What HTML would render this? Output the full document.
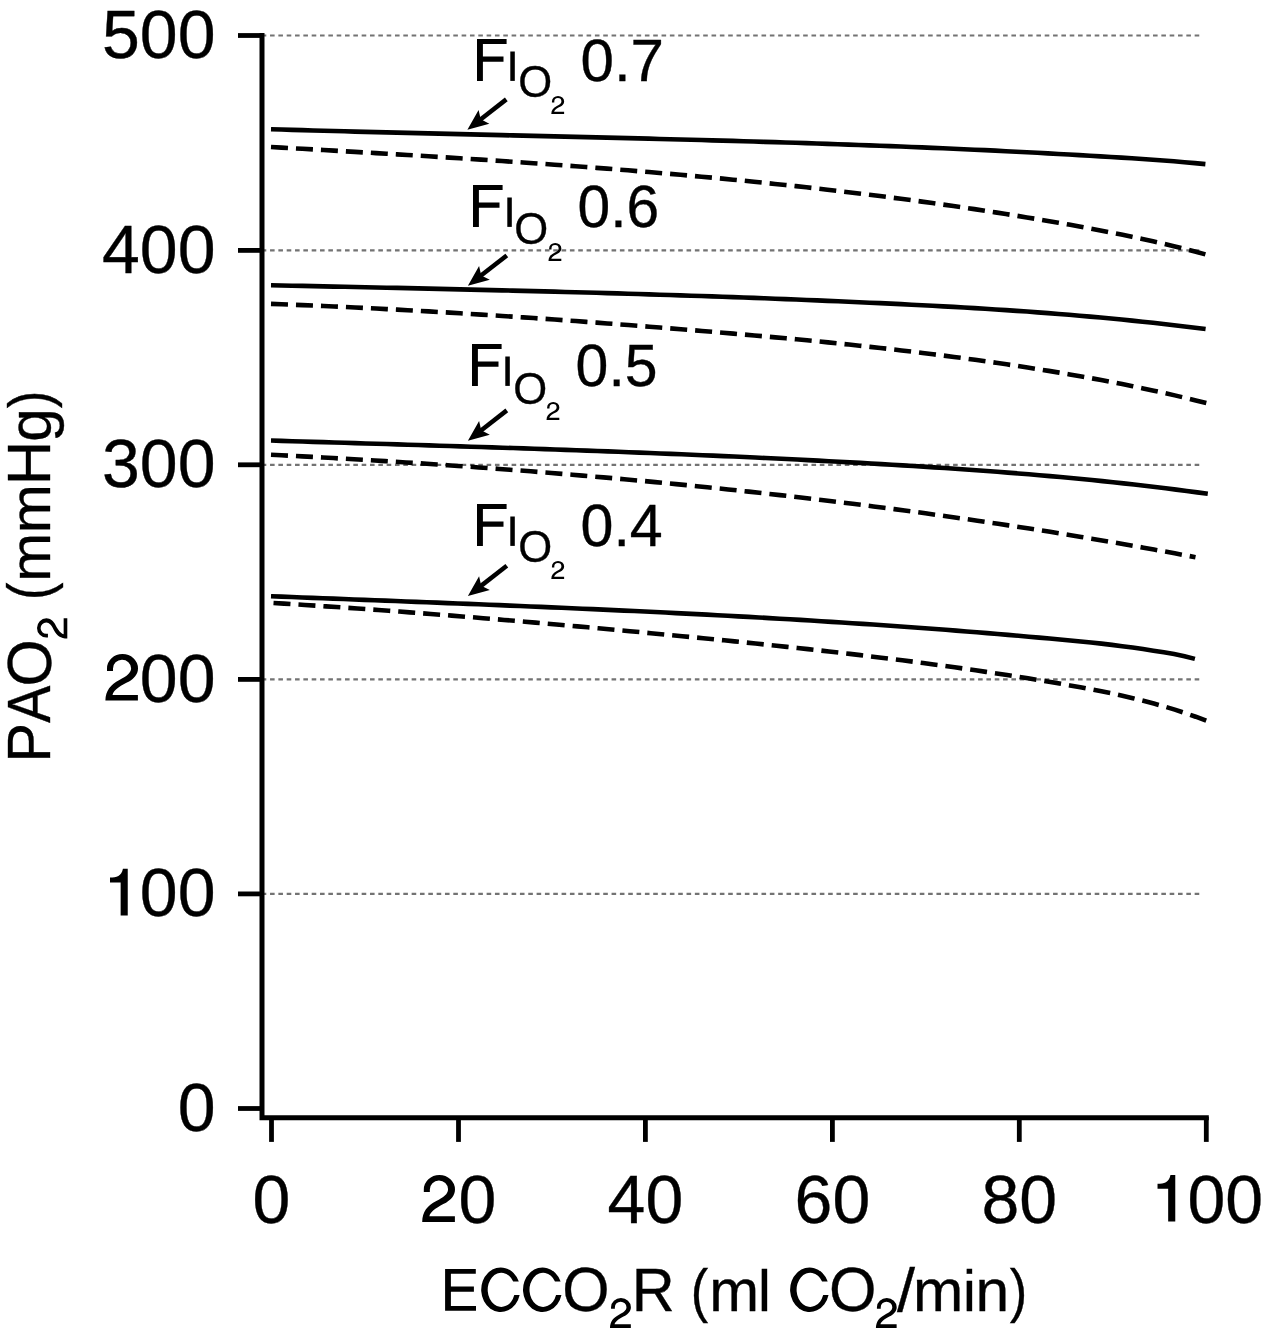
<!DOCTYPE html>
<html><head><meta charset="utf-8"><style>
html,body{margin:0;padding:0;background:#fff;width:1262px;height:1341px;overflow:hidden}
svg{display:block;will-change:transform}
text{font-family:"Liberation Sans",sans-serif;fill:#000;stroke:#000;stroke-width:0.35px;vector-effect:non-scaling-stroke;font-kerning:none;white-space:pre}
</style></head><body>
<svg width="1262" height="1341" viewBox="0 0 1262 1341">
<line x1="261.7" y1="35.5" x2="1200" y2="35.5" stroke="#737373" stroke-width="2.2" stroke-dasharray="4.6 3.73"/>
<line x1="261.7" y1="250.4" x2="1200" y2="250.4" stroke="#737373" stroke-width="2.2" stroke-dasharray="4.6 3.73"/>
<line x1="261.7" y1="464.8" x2="1200" y2="464.8" stroke="#737373" stroke-width="2.2" stroke-dasharray="4.6 3.73"/>
<line x1="261.7" y1="679.4" x2="1200" y2="679.4" stroke="#737373" stroke-width="2.2" stroke-dasharray="4.6 3.73"/>
<line x1="261.7" y1="893.9" x2="1200" y2="893.9" stroke="#737373" stroke-width="2.2" stroke-dasharray="4.6 3.73"/>
<path d="M271.0,129.26 L281.5,129.57 L292.0,129.87 L302.5,130.17 L313.0,130.46 L323.5,130.75 L334.0,131.03 L344.5,131.31 L355.0,131.58 L365.5,131.85 L376.0,132.12 L386.5,132.38 L397.0,132.64 L407.5,132.90 L418.0,133.16 L428.5,133.41 L439.0,133.66 L449.5,133.91 L460.0,134.16 L470.5,134.41 L481.0,134.66 L491.5,134.90 L502.0,135.15 L512.5,135.39 L523.0,135.64 L533.5,135.88 L544.0,136.13 L554.5,136.37 L565.0,136.62 L575.5,136.87 L586.0,137.12 L596.5,137.37 L607.0,137.63 L617.5,137.88 L628.0,138.14 L638.5,138.40 L649.0,138.67 L659.5,138.93 L670.0,139.20 L680.5,139.48 L691.0,139.76 L701.5,140.04 L712.0,140.33 L722.5,140.62 L733.0,140.92 L743.4,141.22 L753.9,141.53 L764.4,141.84 L774.9,142.16 L785.4,142.48 L795.9,142.82 L806.4,143.15 L816.9,143.50 L827.4,143.85 L837.9,144.21 L848.4,144.58 L858.9,144.96 L869.4,145.34 L879.9,145.73 L890.4,146.13 L900.9,146.54 L911.4,146.96 L921.9,147.39 L932.4,147.83 L942.9,148.28 L953.4,148.73 L963.9,149.20 L974.4,149.68 L984.9,150.17 L995.4,150.67 L1005.9,151.19 L1016.4,151.71 L1026.9,152.25 L1037.4,152.79 L1047.9,153.35 L1058.4,153.93 L1068.9,154.51 L1079.4,155.11 L1089.9,155.73 L1100.4,156.35 L1110.9,156.99 L1121.4,157.65 L1131.9,158.32 L1142.4,159.01 L1152.9,159.74 L1163.4,160.50 L1173.9,161.32 L1184.4,162.19 L1194.9,163.12 L1205.4,164.13" fill="none" stroke="#000" stroke-width="4.6"/>
<path d="M271.0,147.00 L281.5,147.61 L292.0,148.21 L302.5,148.82 L313.0,149.42 L323.5,150.03 L334.0,150.64 L344.5,151.25 L355.0,151.87 L365.5,152.49 L376.0,153.11 L386.5,153.74 L397.0,154.37 L407.5,155.00 L418.0,155.65 L428.5,156.29 L439.0,156.95 L449.5,157.61 L460.0,158.28 L470.5,158.95 L481.0,159.64 L491.5,160.33 L502.0,161.03 L512.5,161.75 L523.0,162.47 L533.5,163.20 L544.0,163.94 L554.5,164.70 L565.0,165.46 L575.5,166.24 L586.0,167.03 L596.5,167.84 L607.0,168.65 L617.5,169.48 L628.0,170.33 L638.5,171.19 L649.0,172.06 L659.5,172.96 L670.0,173.86 L680.5,174.79 L691.0,175.73 L701.5,176.69 L712.0,177.66 L722.5,178.66 L733.0,179.67 L743.4,180.70 L753.9,181.75 L764.4,182.82 L774.9,183.92 L785.4,185.03 L795.9,186.16 L806.4,187.32 L816.9,188.50 L827.4,189.70 L837.9,190.92 L848.4,192.17 L858.9,193.44 L869.4,194.74 L879.9,196.06 L890.4,197.41 L900.9,198.78 L911.4,200.18 L921.9,201.60 L932.4,203.06 L942.9,204.54 L953.4,206.04 L963.9,207.58 L974.4,209.14 L984.9,210.74 L995.4,212.36 L1005.9,214.02 L1016.4,215.70 L1026.9,217.42 L1037.4,219.16 L1047.9,220.94 L1058.4,222.75 L1068.9,224.60 L1079.4,226.49 L1089.9,228.43 L1100.4,230.42 L1110.9,232.46 L1121.4,234.57 L1131.9,236.75 L1142.4,239.00 L1152.9,241.33 L1163.4,243.74 L1173.9,246.25 L1184.4,248.84 L1194.9,251.54 L1205.4,254.35" fill="none" stroke="#000" stroke-width="4.6" stroke-dasharray="17 8"/>
<path d="M271.0,285.27 L281.5,285.49 L292.0,285.70 L302.5,285.92 L313.0,286.14 L323.5,286.36 L334.0,286.58 L344.5,286.80 L355.0,287.02 L365.5,287.24 L376.0,287.47 L386.5,287.70 L397.0,287.92 L407.5,288.15 L418.0,288.39 L428.5,288.62 L439.0,288.86 L449.5,289.10 L460.0,289.34 L470.5,289.59 L481.0,289.83 L491.5,290.09 L502.0,290.34 L512.5,290.60 L523.0,290.86 L533.5,291.13 L544.0,291.40 L554.5,291.67 L565.0,291.95 L575.5,292.24 L586.0,292.52 L596.5,292.82 L607.0,293.12 L617.5,293.42 L628.0,293.73 L638.5,294.04 L649.0,294.36 L659.5,294.69 L670.0,295.02 L680.5,295.36 L691.0,295.70 L701.5,296.05 L712.0,296.41 L722.5,296.77 L733.0,297.15 L743.6,297.52 L754.1,297.91 L764.6,298.30 L775.1,298.70 L785.6,299.11 L796.1,299.53 L806.6,299.95 L817.1,300.39 L827.6,300.83 L838.1,301.28 L848.6,301.74 L859.1,302.20 L869.6,302.68 L880.1,303.17 L890.6,303.66 L901.1,304.17 L911.6,304.69 L922.1,305.22 L932.6,305.77 L943.1,306.34 L953.6,306.92 L964.1,307.52 L974.6,308.14 L985.1,308.79 L995.6,309.45 L1006.1,310.13 L1016.6,310.85 L1027.1,311.58 L1037.6,312.34 L1048.1,313.13 L1058.6,313.95 L1069.1,314.80 L1079.6,315.68 L1090.1,316.59 L1100.6,317.54 L1111.1,318.52 L1121.6,319.53 L1132.1,320.59 L1142.6,321.68 L1153.1,322.81 L1163.6,323.98 L1174.1,325.19 L1184.6,326.45 L1195.1,327.74 L1205.6,329.09" fill="none" stroke="#000" stroke-width="4.6"/>
<path d="M271.0,303.90 L281.5,304.29 L292.0,304.70 L302.5,305.12 L313.0,305.57 L323.5,306.02 L334.1,306.49 L344.6,306.98 L355.1,307.48 L365.6,308.00 L376.1,308.53 L386.6,309.08 L397.1,309.64 L407.6,310.21 L418.1,310.80 L428.6,311.40 L439.1,312.01 L449.7,312.63 L460.2,313.27 L470.7,313.92 L481.2,314.59 L491.7,315.26 L502.2,315.95 L512.7,316.65 L523.2,317.36 L533.7,318.08 L544.2,318.81 L554.7,319.55 L565.3,320.31 L575.8,321.07 L586.3,321.84 L596.8,322.62 L607.3,323.42 L617.8,324.22 L628.3,325.03 L638.8,325.85 L649.3,326.68 L659.8,327.51 L670.3,328.36 L680.9,329.21 L691.4,330.07 L701.9,330.94 L712.4,331.82 L722.9,332.71 L733.4,333.61 L743.9,334.52 L754.4,335.45 L764.9,336.39 L775.4,337.35 L785.9,338.33 L796.4,339.32 L807.0,340.33 L817.5,341.36 L828.0,342.41 L838.5,343.48 L849.0,344.58 L859.5,345.69 L870.0,346.84 L880.5,348.00 L891.0,349.20 L901.5,350.42 L912.0,351.66 L922.6,352.94 L933.1,354.25 L943.6,355.59 L954.1,356.96 L964.6,358.36 L975.1,359.80 L985.6,361.27 L996.1,362.77 L1006.6,364.32 L1017.1,365.90 L1027.6,367.52 L1038.2,369.18 L1048.7,370.88 L1059.2,372.62 L1069.7,374.40 L1080.2,376.24 L1090.7,378.12 L1101.2,380.06 L1111.7,382.05 L1122.2,384.10 L1132.7,386.22 L1143.2,388.40 L1153.8,390.65 L1164.3,392.98 L1174.8,395.38 L1185.3,397.86 L1195.8,400.42 L1206.3,403.06" fill="none" stroke="#000" stroke-width="4.6" stroke-dasharray="17 8"/>
<path d="M271.0,440.57 L281.5,440.89 L292.1,441.21 L302.6,441.53 L313.1,441.85 L323.6,442.16 L334.2,442.48 L344.7,442.80 L355.2,443.12 L365.7,443.43 L376.3,443.75 L386.8,444.07 L397.3,444.39 L407.8,444.72 L418.4,445.04 L428.9,445.37 L439.4,445.69 L449.9,446.02 L460.5,446.36 L471.0,446.69 L481.5,447.03 L492.0,447.37 L502.6,447.72 L513.1,448.06 L523.6,448.42 L534.1,448.77 L544.7,449.13 L555.2,449.50 L565.7,449.87 L576.2,450.24 L586.8,450.62 L597.3,451.00 L607.8,451.39 L618.4,451.79 L628.9,452.19 L639.4,452.59 L649.9,453.01 L660.5,453.43 L671.0,453.85 L681.5,454.29 L692.0,454.73 L702.6,455.18 L713.1,455.63 L723.6,456.09 L734.1,456.56 L744.7,457.04 L755.2,457.53 L765.7,458.03 L776.2,458.53 L786.8,459.05 L797.3,459.57 L807.8,460.10 L818.3,460.65 L828.9,461.20 L839.4,461.76 L849.9,462.33 L860.4,462.92 L871.0,463.51 L881.5,464.12 L892.0,464.73 L902.6,465.37 L913.1,466.01 L923.6,466.67 L934.1,467.34 L944.7,468.04 L955.2,468.75 L965.7,469.48 L976.2,470.23 L986.8,471.00 L997.3,471.79 L1007.8,472.61 L1018.3,473.45 L1028.9,474.31 L1039.4,475.20 L1049.9,476.12 L1060.4,477.07 L1071.0,478.04 L1081.5,479.05 L1092.0,480.08 L1102.5,481.15 L1113.1,482.25 L1123.6,483.39 L1134.1,484.56 L1144.6,485.77 L1155.2,487.01 L1165.7,488.30 L1176.2,489.62 L1186.7,490.98 L1197.3,492.38 L1207.8,493.83" fill="none" stroke="#000" stroke-width="4.6"/>
<path d="M271.0,454.73 L281.4,455.26 L291.8,455.80 L302.2,456.35 L312.6,456.91 L322.9,457.49 L333.3,458.07 L343.7,458.66 L354.1,459.27 L364.5,459.88 L374.9,460.51 L385.3,461.15 L395.7,461.80 L406.0,462.46 L416.4,463.13 L426.8,463.81 L437.2,464.51 L447.6,465.22 L458.0,465.94 L468.4,466.67 L478.8,467.42 L489.1,468.17 L499.5,468.94 L509.9,469.73 L520.3,470.52 L530.7,471.33 L541.1,472.16 L551.5,472.99 L561.9,473.84 L572.2,474.71 L582.6,475.59 L593.0,476.48 L603.4,477.38 L613.8,478.30 L624.2,479.24 L634.6,480.19 L645.0,481.15 L655.3,482.13 L665.7,483.13 L676.1,484.14 L686.5,485.16 L696.9,486.20 L707.3,487.26 L717.7,488.33 L728.1,489.42 L738.4,490.53 L748.8,491.65 L759.2,492.78 L769.6,493.94 L780.0,495.11 L790.4,496.29 L800.8,497.50 L811.2,498.72 L821.5,499.96 L831.9,501.21 L842.3,502.49 L852.7,503.78 L863.1,505.08 L873.5,506.41 L883.9,507.76 L894.3,509.12 L904.6,510.50 L915.0,511.90 L925.4,513.32 L935.8,514.76 L946.2,516.21 L956.6,517.69 L967.0,519.18 L977.4,520.70 L987.7,522.23 L998.1,523.78 L1008.5,525.36 L1018.9,526.95 L1029.3,528.56 L1039.7,530.19 L1050.1,531.85 L1060.5,533.52 L1070.8,535.22 L1081.2,536.93 L1091.6,538.67 L1102.0,540.43 L1112.4,542.21 L1122.8,544.01 L1133.2,545.83 L1143.6,547.67 L1153.9,549.54 L1164.3,551.43 L1174.7,553.34 L1185.1,555.27 L1195.5,557.22" fill="none" stroke="#000" stroke-width="4.6" stroke-dasharray="17 8"/>
<path d="M271.0,596.25 L281.4,596.65 L291.8,597.06 L302.1,597.46 L312.5,597.86 L322.9,598.26 L333.3,598.66 L343.7,599.06 L354.0,599.45 L364.4,599.85 L374.8,600.25 L385.2,600.65 L395.6,601.05 L406.0,601.46 L416.3,601.86 L426.7,602.26 L437.1,602.67 L447.5,603.08 L457.9,603.49 L468.2,603.90 L478.6,604.32 L489.0,604.74 L499.4,605.16 L509.8,605.59 L520.1,606.02 L530.5,606.45 L540.9,606.89 L551.3,607.33 L561.7,607.78 L572.0,608.23 L582.4,608.69 L592.8,609.15 L603.2,609.62 L613.6,610.10 L624.0,610.58 L634.3,611.06 L644.7,611.56 L655.1,612.06 L665.5,612.57 L675.9,613.08 L686.2,613.60 L696.6,614.13 L707.0,614.67 L717.4,615.22 L727.8,615.77 L738.1,616.34 L748.5,616.91 L758.9,617.49 L769.3,618.08 L779.7,618.69 L790.0,619.30 L800.4,619.92 L810.8,620.55 L821.2,621.19 L831.6,621.85 L841.9,622.51 L852.3,623.19 L862.7,623.88 L873.1,624.58 L883.5,625.29 L893.9,626.01 L904.2,626.75 L914.6,627.50 L925.0,628.26 L935.4,629.04 L945.8,629.83 L956.1,630.63 L966.5,631.45 L976.9,632.28 L987.3,633.13 L997.7,633.99 L1008.0,634.87 L1018.4,635.76 L1028.8,636.67 L1039.2,637.59 L1049.6,638.53 L1059.9,639.48 L1070.3,640.46 L1080.7,641.47 L1091.1,642.53 L1101.5,643.65 L1111.9,644.87 L1122.2,646.18 L1132.6,647.59 L1143.0,649.09 L1153.4,650.65 L1163.8,652.27 L1174.1,654.03 L1184.5,656.16 L1194.9,658.88" fill="none" stroke="#000" stroke-width="4.6"/>
<path d="M273.5,603.00 L284.0,603.64 L294.5,604.30 L304.9,604.97 L315.4,605.65 L325.9,606.34 L336.4,607.05 L346.9,607.77 L357.3,608.50 L367.8,609.25 L378.3,610.00 L388.8,610.77 L399.3,611.55 L409.7,612.34 L420.2,613.14 L430.7,613.95 L441.2,614.78 L451.7,615.61 L462.1,616.45 L472.6,617.30 L483.1,618.17 L493.6,619.04 L504.1,619.92 L514.5,620.81 L525.0,621.71 L535.5,622.62 L546.0,623.54 L556.5,624.47 L566.9,625.41 L577.4,626.35 L587.9,627.30 L598.4,628.26 L608.9,629.23 L619.3,630.20 L629.8,631.18 L640.3,632.17 L650.8,633.17 L661.3,634.17 L671.7,635.18 L682.2,636.19 L692.7,637.22 L703.2,638.25 L713.7,639.28 L724.1,640.33 L734.6,641.38 L745.1,642.45 L755.6,643.53 L766.0,644.62 L776.5,645.72 L787.0,646.84 L797.5,647.97 L808.0,649.12 L818.4,650.28 L828.9,651.46 L839.4,652.66 L849.9,653.88 L860.4,655.12 L870.8,656.38 L881.3,657.66 L891.8,658.96 L902.3,660.29 L912.8,661.64 L923.2,663.02 L933.7,664.42 L944.2,665.85 L954.7,667.31 L965.2,668.79 L975.6,670.30 L986.1,671.85 L996.6,673.42 L1007.1,675.03 L1017.6,676.67 L1028.0,678.34 L1038.5,680.05 L1049.0,681.79 L1059.5,683.57 L1070.0,685.40 L1080.4,687.28 L1090.9,689.25 L1101.4,691.31 L1111.9,693.47 L1122.4,695.77 L1132.8,698.20 L1143.3,700.79 L1153.8,703.55 L1164.3,706.51 L1174.8,709.67 L1185.2,713.06 L1195.7,716.71 L1206.2,720.63" fill="none" stroke="#000" stroke-width="4.6" stroke-dasharray="17 8"/>
<path d="M262,33.1 V1117.7 H1208.8" fill="none" stroke="#000" stroke-width="5"/>
<line x1="238" y1="35.5" x2="262" y2="35.5" stroke="#000" stroke-width="4.8"/>
<line x1="238" y1="250.4" x2="262" y2="250.4" stroke="#000" stroke-width="4.8"/>
<line x1="238" y1="464.8" x2="262" y2="464.8" stroke="#000" stroke-width="4.8"/>
<line x1="238" y1="679.4" x2="262" y2="679.4" stroke="#000" stroke-width="4.8"/>
<line x1="238" y1="893.9" x2="262" y2="893.9" stroke="#000" stroke-width="4.8"/>
<line x1="238" y1="1108.5" x2="262" y2="1108.5" stroke="#000" stroke-width="4.8"/>
<line x1="271.5" y1="1117" x2="271.5" y2="1141.9" stroke="#000" stroke-width="4.8"/>
<line x1="458.5" y1="1117" x2="458.5" y2="1141.9" stroke="#000" stroke-width="4.8"/>
<line x1="645.4" y1="1117" x2="645.4" y2="1141.9" stroke="#000" stroke-width="4.8"/>
<line x1="832.4" y1="1117" x2="832.4" y2="1141.9" stroke="#000" stroke-width="4.8"/>
<line x1="1019.3" y1="1117" x2="1019.3" y2="1141.9" stroke="#000" stroke-width="4.8"/>
<line x1="1206.3" y1="1117" x2="1206.3" y2="1141.9" stroke="#000" stroke-width="4.8"/>
<text x="215.5" y="57.9" text-anchor="end" font-size="68">500</text>
<text x="215.5" y="272.8" text-anchor="end" font-size="68">400</text>
<text x="215.5" y="487.2" text-anchor="end" font-size="68">300</text>
<text x="215.5" y="701.8" text-anchor="end" font-size="68">00</text>
<path transform="translate(105.40,654.10) scale(1.0000,1.0000) translate(-105.4,-654.1)" d="M107.0,670.9 L107.0,668.5 A15.5,14.4 0 0 1 138.0,668.5 C138.0,674.5 133.5,679.0 129.1,681.5 C122.0,685.0 113.5,689.5 112.5,695.0 L137.9,695.0 L137.9,700.6 L105.4,700.6 C105.6,690.5 110.5,684.5 119.4,679.9 C126.5,676.5 131.1,673.0 131.1,668.3 A9.0,8.7 0 0 0 113.0,668.5 L113.0,670.9 Z" fill="#000"/>
<text x="215.5" y="916.3" text-anchor="end" font-size="68">00</text>
<path d="M127.74,868.70 L127.74,915.40 L120.64,915.40 L120.64,882.50 L110.00,882.50 L110.00,877.50 C116.54,877.50 121.54,876.10 122.94,868.70 Z" fill="#000"/>
<text x="215.5" y="1130.9" text-anchor="end" font-size="68">0</text>
<text x="271.5" y="1222.5" text-anchor="middle" font-size="68">0</text>
<text x="458.46" y="1222.5" font-size="68">0</text>
<path transform="translate(422.20,1175.00) scale(1.0061,1.0086) translate(-105.4,-654.1)" d="M107.0,670.9 L107.0,668.5 A15.5,14.4 0 0 1 138.0,668.5 C138.0,674.5 133.5,679.0 129.1,681.5 C122.0,685.0 113.5,689.5 112.5,695.0 L137.9,695.0 L137.9,700.6 L105.4,700.6 C105.6,690.5 110.5,684.5 119.4,679.9 C126.5,676.5 131.1,673.0 131.1,668.3 A9.0,8.7 0 0 0 113.0,668.5 L113.0,670.9 Z" fill="#000"/>
<text x="645.4" y="1222.5" text-anchor="middle" font-size="68">40</text>
<text x="832.4" y="1222.5" text-anchor="middle" font-size="68">60</text>
<text x="1019.3" y="1222.5" text-anchor="middle" font-size="68">80</text>
<text x="1187.39" y="1222.5" font-size="68">00</text>
<path d="M1175.27,1174.90 L1175.27,1221.60 L1168.17,1221.60 L1168.17,1188.70 L1157.53,1188.70 L1157.53,1183.70 C1164.07,1183.70 1169.07,1182.30 1170.47,1174.90 Z" fill="#000"/>
<path d="M467.40,129.70 L478.59,109.88 L480.73,119.31 L489.35,123.69 Z" fill="#000"/><line x1="479.23" y1="120.47" x2="506.30" y2="99.38" stroke="#000" stroke-width="4.5"/>
<path d="M467.90,285.80 L479.09,265.98 L481.23,275.41 L489.85,279.79 Z" fill="#000"/><line x1="479.73" y1="276.57" x2="506.80" y2="255.48" stroke="#000" stroke-width="4.5"/>
<path d="M467.90,440.70 L479.09,420.88 L481.23,430.31 L489.85,434.69 Z" fill="#000"/><line x1="479.73" y1="431.47" x2="506.80" y2="410.38" stroke="#000" stroke-width="4.5"/>
<path d="M467.90,596.10 L479.09,576.28 L481.23,585.71 L489.85,590.09 Z" fill="#000"/><line x1="479.73" y1="586.88" x2="506.80" y2="565.78" stroke="#000" stroke-width="4.5"/>
<path d="M477.00,39.00h29.6v5.0h-23.7v12.5h20.6v5.3h-20.6v19.1h-5.9z" fill="#000"/><rect x="510.30" y="51.50" width="4.5" height="29.4" fill="#000"/><text transform="translate(518.23,97.36) scale(0.9701,1)" font-size="45" >O</text><path transform="translate(551.30,95.90) scale(0.3942,0.3871) translate(-105.4,-654.1)" d="M107.0,670.9 L107.0,668.5 A15.5,14.4 0 0 1 138.0,668.5 C138.0,674.5 133.5,679.0 129.1,681.5 C122.0,685.0 113.5,689.5 112.5,695.0 L137.9,695.0 L137.9,700.6 L105.4,700.6 C105.6,690.5 110.5,684.5 119.4,679.9 C126.5,676.5 131.1,673.0 131.1,668.3 A9.0,8.7 0 0 0 113.0,668.5 L113.0,670.9 Z" fill="#000"/><text transform="translate(580.45,81.30) scale(1.0020,1)" font-size="60.0" >0.7</text>
<path d="M473.00,185.00h29.6v5.0h-23.7v12.5h20.6v5.3h-20.6v19.1h-5.9z" fill="#000"/><rect x="507.30" y="197.50" width="4.5" height="29.4" fill="#000"/><text transform="translate(514.33,244.16) scale(0.9701,1)" font-size="45" >O</text><path transform="translate(548.50,242.90) scale(0.3942,0.3871) translate(-105.4,-654.1)" d="M107.0,670.9 L107.0,668.5 A15.5,14.4 0 0 1 138.0,668.5 C138.0,674.5 133.5,679.0 129.1,681.5 C122.0,685.0 113.5,689.5 112.5,695.0 L137.9,695.0 L137.9,700.6 L105.4,700.6 C105.6,690.5 110.5,684.5 119.4,679.9 C126.5,676.5 131.1,673.0 131.1,668.3 A9.0,8.7 0 0 0 113.0,668.5 L113.0,670.9 Z" fill="#000"/><text transform="translate(577.50,227.40) scale(0.9792,1)" font-size="60.0" >0.6</text>
<path d="M472.00,344.00h29.6v5.0h-23.7v12.5h20.6v5.3h-20.6v19.1h-5.9z" fill="#000"/><rect x="505.30" y="356.50" width="4.5" height="29.4" fill="#000"/><text transform="translate(513.13,403.56) scale(0.9701,1)" font-size="45" >O</text><path transform="translate(546.50,401.90) scale(0.3942,0.3871) translate(-105.4,-654.1)" d="M107.0,670.9 L107.0,668.5 A15.5,14.4 0 0 1 138.0,668.5 C138.0,674.5 133.5,679.0 129.1,681.5 C122.0,685.0 113.5,689.5 112.5,695.0 L137.9,695.0 L137.9,700.6 L105.4,700.6 C105.6,690.5 110.5,684.5 119.4,679.9 C126.5,676.5 131.1,673.0 131.1,668.3 A9.0,8.7 0 0 0 113.0,668.5 L113.0,670.9 Z" fill="#000"/><text transform="translate(575.60,386.30) scale(0.9829,1)" font-size="60.0" >0.5</text>
<path d="M477.00,504.00h29.6v5.0h-23.7v12.5h20.6v5.3h-20.6v19.1h-5.9z" fill="#000"/><rect x="510.30" y="516.50" width="4.5" height="29.4" fill="#000"/><text transform="translate(518.23,562.36) scale(0.9701,1)" font-size="45" >O</text><path transform="translate(551.30,560.90) scale(0.3942,0.3871) translate(-105.4,-654.1)" d="M107.0,670.9 L107.0,668.5 A15.5,14.4 0 0 1 138.0,668.5 C138.0,674.5 133.5,679.0 129.1,681.5 C122.0,685.0 113.5,689.5 112.5,695.0 L137.9,695.0 L137.9,700.6 L105.4,700.6 C105.6,690.5 110.5,684.5 119.4,679.9 C126.5,676.5 131.1,673.0 131.1,668.3 A9.0,8.7 0 0 0 113.0,668.5 L113.0,670.9 Z" fill="#000"/><text transform="translate(580.49,546.30) scale(0.9860,1)" font-size="60.0" >0.4</text>
<path d="M445.1,1269.0H475.8V1273.7H450.9V1286.4H473.9V1291.8H450.9V1305.9H476.0V1310.8H445.1Z" fill="#000"/>
<text transform="translate(562.32,1311.28) scale(0.6080,0.6299)" font-size="100">O</text>
<text transform="translate(631.82,1310.90) scale(0.5945,0.6134)" font-size="100">R</text>
<text transform="translate(690.65,1310.66) scale(0.5243,0.5914)" font-size="100">(</text>
<text transform="translate(709.23,1310.80) scale(0.5980,0.5891)" font-size="100">m</text>
<text transform="translate(757.99,1310.80) scale(0.5803,0.5782)" font-size="100">l</text>
<text transform="translate(829.01,1311.28) scale(0.6109,0.6299)" font-size="100">O</text>
<text transform="translate(897.10,1311.11) scale(0.6479,0.6046)" font-size="100">/</text>
<text transform="translate(912.89,1310.90) scale(0.6037,0.5910)" font-size="100">m</text>
<text transform="translate(963.02,1310.90) scale(0.5803,0.5796)" font-size="100">i</text>
<text transform="translate(975.48,1310.90) scale(0.6050,0.5910)" font-size="100">n</text>
<text transform="translate(1009.69,1310.66) scale(0.5243,0.5914)" font-size="100">)</text>
<path d="M518.81,1281.5 A19.5,22.25 0 1 0 519.65,1295.0 L514.26,1295.0 A13.6,17.1 0 1 1 513.19,1281.5 Z" fill="#000"/>
<path d="M560.61,1281.5 A19.5,22.25 0 1 0 561.45,1295.0 L556.06,1295.0 A13.6,17.1 0 1 1 554.99,1281.5 Z" fill="#000"/>
<path d="M827.71,1281.5 A19.5,22.25 0 1 0 828.55,1295.0 L823.16,1295.0 A13.6,17.1 0 1 1 822.09,1281.5 Z" fill="#000"/>
<text transform="translate(49.9,757.9) rotate(-90) translate(-4.90,0.00) scale(0.5975,0.6090)" font-size="100">P</text>
<text transform="translate(49.9,757.9) rotate(-90) translate(35.09,0.00) scale(0.5550,0.6090)" font-size="100">A</text>
<text transform="translate(49.9,757.9) rotate(-90) translate(71.33,0.78) scale(0.6065,0.6313)" font-size="100">O</text>
<text transform="translate(49.9,757.9) rotate(-90) translate(157.95,0.33) scale(0.5243,0.6022)" font-size="100">(</text>
<text transform="translate(49.9,757.9) rotate(-90) translate(176.21,0.20) scale(0.5851,0.5798)" font-size="100">m</text>
<text transform="translate(49.9,757.9) rotate(-90) translate(224.59,0.20) scale(0.5894,0.5798)" font-size="100">m</text>
<text transform="translate(49.9,757.9) rotate(-90) translate(272.63,0.20) scale(0.6176,0.6090)" font-size="100">H</text>
<text transform="translate(49.9,757.9) rotate(-90) translate(316.17,0.72) scale(0.6026,0.6061)" font-size="100">g</text>
<text transform="translate(49.9,757.9) rotate(-90) translate(349.59,0.40) scale(0.5280,0.5989)" font-size="100">)</text>
<path transform="translate(610.00,1298.10) scale(0.6411,0.6409) translate(-105.4,-654.1)" d="M107.0,670.9 L107.0,668.5 A15.5,14.4 0 0 1 138.0,668.5 C138.0,674.5 133.5,679.0 129.1,681.5 C122.0,685.0 113.5,689.5 112.5,695.0 L137.9,695.0 L137.9,700.6 L105.4,700.6 C105.6,690.5 110.5,684.5 119.4,679.9 C126.5,676.5 131.1,673.0 131.1,668.3 A9.0,8.7 0 0 0 113.0,668.5 L113.0,670.9 Z" fill="#000"/>
<path transform="translate(875.90,1298.10) scale(0.6380,0.6409) translate(-105.4,-654.1)" d="M107.0,670.9 L107.0,668.5 A15.5,14.4 0 0 1 138.0,668.5 C138.0,674.5 133.5,679.0 129.1,681.5 C122.0,685.0 113.5,689.5 112.5,695.0 L137.9,695.0 L137.9,700.6 L105.4,700.6 C105.6,690.5 110.5,684.5 119.4,679.9 C126.5,676.5 131.1,673.0 131.1,668.3 A9.0,8.7 0 0 0 113.0,668.5 L113.0,670.9 Z" fill="#000"/>
<g transform="translate(49.9,757.9) rotate(-90)"><path transform="translate(119.30,-12.90) scale(0.6227,0.6516) translate(-105.4,-654.1)" d="M107.0,670.9 L107.0,668.5 A15.5,14.4 0 0 1 138.0,668.5 C138.0,674.5 133.5,679.0 129.1,681.5 C122.0,685.0 113.5,689.5 112.5,695.0 L137.9,695.0 L137.9,700.6 L105.4,700.6 C105.6,690.5 110.5,684.5 119.4,679.9 C126.5,676.5 131.1,673.0 131.1,668.3 A9.0,8.7 0 0 0 113.0,668.5 L113.0,670.9 Z" fill="#000"/></g>
</svg>
</body></html>
